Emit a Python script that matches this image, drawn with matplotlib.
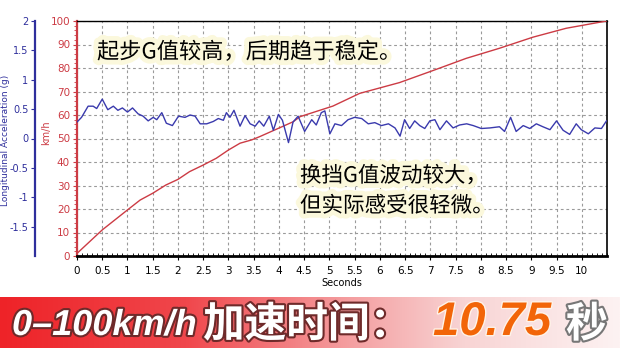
import numpy as np
import matplotlib
matplotlib.use('Agg')
import matplotlib.pyplot as plt
import matplotlib.patheffects as pe
from matplotlib.colors import LinearSegmentedColormap

# 车速 (km/h) 随时间变化
speed_t = [0, 0.5, 1.0, 1.25, 1.5, 1.76, 2.0, 2.23, 2.5, 2.76, 3.0, 3.23, 3.46, 3.62,
           4.28, 4.42, 5.07, 5.6, 6.39, 7.05, 7.71, 8.37, 9.03, 9.69, 10.49]
speed_kmh = [1.1, 11.1, 19.6, 23.8, 26.7, 30.2, 32.6, 35.9, 38.7, 41.6, 45.1, 48.0, 49.4, 50.8,
             57.1, 59.3, 63.8, 69.2, 73.8, 78.9, 84.1, 88.4, 93.1, 96.9, 100.0]

# 纵向加速度 (g)
acc_t = [0.0, 0.09, 0.22, 0.32, 0.39, 0.5, 0.61, 0.72, 0.81, 0.9, 1.0, 1.1, 1.21, 1.31, 1.41,
         1.51, 1.58, 1.68, 1.77, 1.89, 2.01, 2.14, 2.24, 2.34, 2.44, 2.57, 2.7, 2.8, 2.9, 2.96,
         3.03, 3.11, 3.23, 3.33, 3.43, 3.53, 3.61, 3.7, 3.81, 3.89, 3.99, 4.07, 4.19, 4.28, 4.38,
         4.51, 4.65, 4.74, 4.84, 4.91, 5.01, 5.11, 5.24, 5.37, 5.5, 5.64, 5.77, 5.9, 6.03, 6.17,
         6.3, 6.4, 6.49, 6.59, 6.69, 6.79, 6.89, 6.99, 7.09, 7.19, 7.32, 7.45, 7.58, 7.72, 7.85,
         8.01, 8.18, 8.37, 8.47, 8.59, 8.7, 8.84, 8.97, 9.1, 9.23, 9.37, 9.5, 9.63, 9.76, 9.89,
         9.99, 10.13, 10.26, 10.39, 10.49]
acc_g = [0.28, 0.36, 0.55, 0.55, 0.51, 0.67, 0.49, 0.55, 0.48, 0.52, 0.45, 0.52, 0.42, 0.38, 0.30,
         0.36, 0.32, 0.44, 0.26, 0.22, 0.38, 0.36, 0.40, 0.38, 0.25, 0.25, 0.29, 0.34, 0.31, 0.44,
         0.36, 0.48, 0.21, 0.39, 0.25, 0.21, 0.30, 0.21, 0.38, 0.14, 0.41, 0.31, -0.07, 0.28, 0.38,
         0.12, 0.32, 0.23, 0.44, 0.47, 0.08, 0.25, 0.22, 0.32, 0.36, 0.34, 0.25, 0.27, 0.22, 0.25,
         0.18, 0.04, 0.32, 0.17, 0.30, 0.22, 0.17, 0.30, 0.32, 0.15, 0.30, 0.18, 0.23, 0.25, 0.22,
         0.17, 0.18, 0.20, 0.12, 0.36, 0.12, 0.22, 0.17, 0.25, 0.20, 0.15, 0.30, 0.14, 0.07, 0.25,
         0.15, 0.08, 0.18, 0.17, 0.30]

x_ticks = np.arange(0, 10.01, 0.5)
x_labels = ['0', '0.5', '1', '1.5', '2', '2.5', '3', '3.5', '4', '4.5', '5', '5.5', '6', '6.5',
            '7', '7.5', '8', '8.5', '9', '9.5', '10']
kmh_ticks = list(range(0, 101, 10))
g_ticks = [-1.5, -1, -0.5, 0, 0.5, 1, 1.5, 2]
g_labels = ['-1.5', '-1', '-0.5', '0', '0.5', '1', '1.5', '2']

RED = '#cc3b44'
BLUE = '#2f2f9c'

W, H = 620, 348
fig = plt.figure(figsize=(W / 100, H / 100), dpi=100)
fig.patch.set_facecolor('white')

# 主坐标 (km/h)
ax = fig.add_axes([77 / W, (H - 256) / H, (607 - 77) / W, (256 - 21) / H])
ax.plot(speed_t, speed_kmh, color=RED, lw=1.0, zorder=3)
ax.set_xlim(0, 10.5)
ax.set_ylim(0, 100)
ax.set_xticks(x_ticks)
ax.set_xticklabels(x_labels)
ax.set_yticks(kmh_ticks)
ax.set_xticks(np.arange(0, 10.51, 0.1), minor=True)
ax.set_yticks(np.arange(0, 101, 2), minor=True)
ax.grid(True, which='major', color='#9a9a9a', linestyle=(0, (2.5, 2.5)), lw=0.8)
ax.tick_params(axis='x', labelsize=7.5, colors='black', length=3, pad=4)
ax.tick_params(axis='x', which='minor', direction='in', length=2, colors='black')
ax.tick_params(axis='y', labelsize=7.5, colors=RED, labelcolor=RED, length=3, pad=2)
ax.tick_params(axis='y', which='minor', length=2, colors=RED)
ax.spines['left'].set_color(RED)
ax.spines['left'].set_linewidth(1.6)
ax.spines['bottom'].set_linewidth(2)
ax.spines['top'].set_linewidth(1.0)
ax.spines['right'].set_linewidth(1.2)
ax.set_xlabel('Seconds', fontsize=7, labelpad=2)

# 加速度坐标 (g)
ax2 = ax.twinx()
ax2.plot(acc_t, acc_g, color='#3a3aad', lw=1.0, zorder=4)
ax2.set_ylim(-2, 2)
ax2.set_yticks(g_ticks)
ax2.set_yticklabels(g_labels)
ax2.yaxis.set_ticks_position('left')
ax2.spines['left'].set_position(('outward', 30))
ax2.spines['left'].set_color(BLUE)
ax2.spines['left'].set_linewidth(1.6)
ax2.spines['right'].set_visible(False)
ax2.spines['top'].set_visible(False)
ax2.spines['bottom'].set_visible(False)
ax2.tick_params(axis='y', labelsize=7, colors=BLUE, labelcolor=BLUE, length=3, pad=2)

fig.text(6 / W, 1 - 140 / H, 'Longitudinal Acceleration (g)', rotation=90, color=BLUE,
         fontsize=6.5, ha='center', va='center')
fig.text(46 / W, 1 - 133 / H, 'km/h', rotation=90, color=RED, fontsize=7, ha='center', va='center')

# 注释
cjk = ['Noto Sans CJK SC', 'DejaVu Sans']
glow = [pe.withStroke(linewidth=7, foreground='#fbf8dc')]
fig.text(97 / W, 1 - 52 / H, '起步G值较高，后期趋于稳定。', family=cjk, fontsize=16,
         color='black', ha='left', va='center', path_effects=glow)
fig.text(300 / W, 1 - 176 / H, '换挡G值波动较大，', family=cjk, fontsize=15.5,
         color='black', ha='left', va='center', path_effects=glow)
fig.text(300 / W, 1 - 206 / H, '但实际感受很轻微。', family=cjk, fontsize=15.5,
         color='black', ha='left', va='center', path_effects=glow)

# 底部横幅
bax = fig.add_axes([0, 0, 1, 51 / H])
bax.set_axis_off()
cmap = LinearSegmentedColormap.from_list('banner', [(0, '#ee2328'), (0.3, '#f0474c'),
                                                    (0.55, '#f49a9c'), (0.75, '#f8d4d4'),
                                                    (1, '#fdf2f2')])
bax.imshow(np.linspace(0, 1, 256).reshape(1, -1), aspect='auto', cmap=cmap,
           extent=[0, 1, 0, 1])
bax.set_xlim(0, 1)
bax.set_ylim(0, 1)

outline = [pe.withStroke(linewidth=3, foreground='#6e2a2a')]
base = (H - 335) / H
fig.text(12 / W, base, '0–100km/h', family='Liberation Sans', weight='bold', style='italic',
         fontsize=26, color='white', ha='left', va='baseline', path_effects=outline)
fig.text(203 / W, base - 2 / H, '加速时间：', family=cjk, weight='bold', fontsize=30,
         color='white', ha='left', va='baseline', path_effects=outline)
fig.text(433 / W, base, '10.75', family='Liberation Sans', weight='bold', style='italic',
         fontsize=34, color='#f26508', ha='left', va='baseline',
         path_effects=[pe.withStroke(linewidth=2, foreground='#fff3e8')])
fig.text(566 / W, base - 2 / H, '秒', family=cjk, weight='bold', fontsize=30,
         color='white', ha='left', va='baseline',
         path_effects=[pe.withStroke(linewidth=3, foreground='#777777')])

fig.savefig('out.png', dpi=100)
